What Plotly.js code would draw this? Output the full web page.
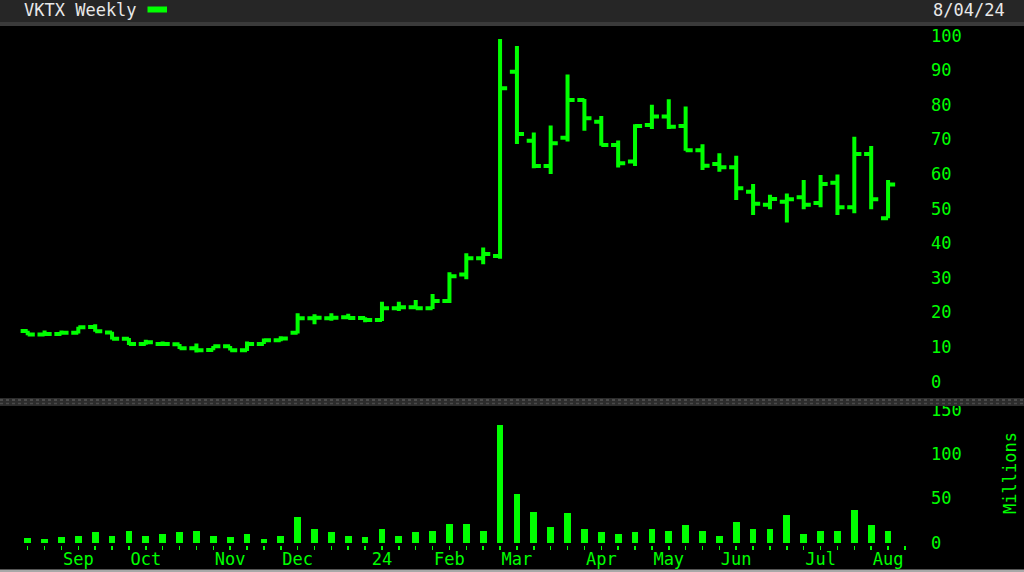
<!DOCTYPE html>
<html><head><meta charset="utf-8">
<script src="https://cdn.plot.ly/plotly-3.0.1.min.js"></script>
<style>html,body{margin:0;padding:0;background:#000;overflow:hidden}#chart{width:1024px;height:572px}</style>
</head><body><div id="chart"></div>
<script>
// Weekly bars (week starting Monday)
const weeks = [
 '2023-08-14','2023-08-21','2023-08-28','2023-09-04','2023-09-11','2023-09-18','2023-09-25',
 '2023-10-02','2023-10-09','2023-10-16','2023-10-23','2023-10-30','2023-11-06','2023-11-13',
 '2023-11-20','2023-11-27','2023-12-04','2023-12-11','2023-12-18','2023-12-25','2024-01-01',
 '2024-01-08','2024-01-15','2024-01-22','2024-01-29','2024-02-05','2024-02-12','2024-02-19',
 '2024-02-26','2024-03-04','2024-03-11','2024-03-18','2024-03-25','2024-04-01','2024-04-08',
 '2024-04-15','2024-04-22','2024-04-29','2024-05-06','2024-05-13','2024-05-20','2024-05-27',
 '2024-06-03','2024-06-10','2024-06-17','2024-06-24','2024-07-01','2024-07-08','2024-07-15',
 '2024-07-22','2024-07-29','2024-08-05'
];
const openP = [14.65,13.6,13.8,14.1,15.8,14.2,12.4,10.9,10.9,10.8,9.64,9.16,10.2,9.07,10.9,11.96,
 14.1,18.3,18.3,18.6,18.4,17.8,21.2,21.5,21.2,23.3,31.0,35.7,36.3,89.6,69.6,62.3,70.5,81.4,75.1,
 68.4,63.6,74.2,76.6,73.9,66.9,62.9,62.0,54.9,51.1,52.0,53.3,51.6,57.5,50.4,65.8,47.2];
const highP = [14.7,14.75,14.75,15.9,16.6,14.4,12.6,12.1,11.6,10.9,11.0,10.3,10.3,11.6,12.5,13.1,
 19.8,19.5,19.8,19.6,18.6,23.1,23.1,23.6,25.3,31.6,37.1,38.8,99.0,97.0,72.0,74.0,88.8,81.7,76.8,
 69.7,74.4,80.0,81.6,79.5,68.6,66.0,65.3,57.1,54.0,54.4,58.3,59.7,59.9,70.8,68.1,58.3];
const lowP = [13.4,13.5,13.6,13.9,14.4,12.2,10.6,10.7,10.7,9.45,8.4,9.1,8.97,8.87,10.9,11.7,
 13.9,16.6,17.6,18.2,17.2,17.5,20.4,20.9,21.0,22.7,29.6,33.9,35.5,68.7,61.7,60.0,69.4,72.5,68.2,
 61.9,62.3,73.0,73.0,66.7,61.2,60.7,52.5,48.2,49.8,46.0,49.8,50.4,48.2,48.7,49.8,47.2];
const closeP = [13.6,13.8,14.1,15.7,14.55,12.4,10.9,11.4,10.9,9.64,9.07,10.2,9.07,10.9,11.96,12.5,
 18.3,18.5,18.5,18.4,17.8,21.2,21.5,21.2,23.3,30.5,35.7,36.9,84.8,71.6,62.3,68.9,81.4,76.1,68.4,
 63.1,73.9,76.6,73.7,66.9,62.4,62.0,55.9,51.4,52.8,52.7,51.1,57.1,50.4,65.8,52.7,57.0];
// Volume in millions
const volume = [5.7,3.8,6.0,7.9,11.7,7.9,13.6,7.9,9.8,11.7,13.6,7.9,6.0,9.8,3.8,7.9,
 29.4,15.5,11.7,7.9,6.0,15.5,7.9,11.7,13.6,21.5,21.5,13.6,133,54.7,35.1,17.4,33.2,15.5,11.7,
 9.8,11.7,15.5,13.6,19.6,13.6,7.9,23.4,15.5,15.5,31.3,9.8,13.6,13.6,37.0,19.6,13.6];
// Tick slots (one per week plus the next empty week) and month labels
const nextWeek = '2024-08-12';
const monthTickDates = ['2023-09-04','2023-10-02','2023-11-06','2023-12-04','2024-01-08','2024-02-05',
 '2024-03-04','2024-04-08','2024-05-06','2024-06-03','2024-07-08','2024-08-05'];
const monthTickText = ['Sep','Oct','Nov','Dec','24','Feb','Mar','Apr','May','Jun','Jul','Aug'];
const priceTicks = [0,10,20,30,40,50,60,70,80,90,100];
const volumeTicks = [0,50,100,150];
const chartTitle = 'VKTX Weekly';
const chartDate = '8/04/24';
const volumeUnit = 'Millions';

const GREEN = '#00ff00';
const FONT = 'DejaVu Sans Mono';
const slots = weeks.concat([nextWeek]);
const slotText = slots.map(d => { const k = monthTickDates.indexOf(d); return k >= 0 ? monthTickText[k] : ''; });

// pixel -> paper helpers (plot area: x 0..922, y 27..545)
const PW = 922, PT = 27, PB = 545, PH = PB - PT;
const px = v => v / PW;
const py = v => (PB - v) / PH;

const traces = [
 {type:'ohlc', x:weeks, open:openP, high:highP, low:lowP, close:closeP, xaxis:'x', yaxis:'y',
  increasing:{line:{color:GREEN, width:4}}, decreasing:{line:{color:GREEN, width:4}},
  tickwidth:0.42, hoverinfo:'skip', showlegend:false},
 {type:'bar', x:weeks, y:volume, xaxis:'x', yaxis:'y2', marker:{color:GREEN, line:{width:0}},
  width:0.4*7*86400000, hoverinfo:'skip', showlegend:false}
];

const axisFont = {family:FONT, size:17, color:GREEN};
const layout = {
 width:1024, height:572,
 margin:{l:0, r:1024-PW, t:PT, b:572-PB, pad:0},
 paper_bgcolor:'#000', plot_bgcolor:'#000', showlegend:false, bargap:0,
 xaxis:{type:'date', range:['2023-08-02 12:00','2024-08-19 02:00'], anchor:'y2',
  tickmode:'array', tickvals:slots, ticktext:slotText, ticks:'outside', ticklen:4, tickwidth:1.5,
  tickcolor:GREEN, tickfont:axisFont, showgrid:false, zeroline:false, showline:false,
  ticklabelstandoff:-5, rangeslider:{visible:false}, fixedrange:true},
 yaxis:{domain:[py(400), 1], range:[-5.3, 102.5], side:'right', anchor:'x', tickmode:'array',
  tickvals:priceTicks, ticks:'', tickfont:axisFont, showgrid:false, zeroline:false, showline:false,
  ticklabelstandoff:8, fixedrange:true},
 yaxis2:{domain:[0, py(404)], range:[-2.6, 156.9], side:'right', anchor:'x', tickmode:'array',
  tickvals:volumeTicks, ticks:'', tickfont:axisFont, showgrid:false, zeroline:false, showline:false,
  ticklabelstandoff:8, fixedrange:true},
 shapes:[
  {type:'rect', xref:'paper', yref:'paper', x0:px(0), x1:px(1024), y0:py(22), y1:py(0),
   fillcolor:'#262626', line:{width:0}, layer:'above'},
  {type:'rect', xref:'paper', yref:'paper', x0:px(0), x1:px(1024), y0:py(26), y1:py(22),
   fillcolor:'#3a3a3a', line:{width:0}, layer:'above'},
  {type:'rect', xref:'paper', yref:'paper', x0:px(147.5), x1:px(167), y0:py(12.5), y1:py(6.5),
   fillcolor:GREEN, line:{width:0}, layer:'above'},
  {type:'rect', xref:'paper', yref:'paper', x0:px(0), x1:px(1024), y0:py(406), y1:py(398),
   fillcolor:'#2c2c2c', line:{width:0}, layer:'above'},
  {type:'line', xref:'paper', yref:'paper', x0:px(0), x1:px(1024), y0:py(400), y1:py(400),
   line:{color:'#555', width:1.5, dash:'dot'}, layer:'above'},
  {type:'line', xref:'paper', yref:'paper', x0:px(0), x1:px(1024), y0:py(403.5), y1:py(403.5),
   line:{color:'#4a4a4a', width:1.5, dash:'dot'}, layer:'above'},
  {type:'rect', xref:'paper', yref:'paper', x0:px(0), x1:px(1024), y0:py(572), y1:py(569.5),
   fillcolor:'#a8a8a8', line:{width:0}, layer:'above'}
 ],
 annotations:[
  {xref:'paper', yref:'paper', x:px(22), y:py(10.5), xanchor:'left', yanchor:'middle', showarrow:false,
   text:chartTitle, font:{family:FONT, size:17, color:'#e8e8e8'}},
  {xref:'paper', yref:'paper', x:px(1007), y:py(10.5), xanchor:'right', yanchor:'middle', showarrow:false,
   text:chartDate, font:{family:FONT, size:17, color:'#e8e8e8'}},
  {xref:'paper', yref:'paper', x:px(1010), y:py(473), xanchor:'center', yanchor:'middle', showarrow:false,
   textangle:-90, text:volumeUnit, font:{family:FONT, size:17, color:GREEN}}
 ]
};
Plotly.newPlot('chart', traces, layout, {staticPlot:true, displayModeBar:false});
</script></body></html>
